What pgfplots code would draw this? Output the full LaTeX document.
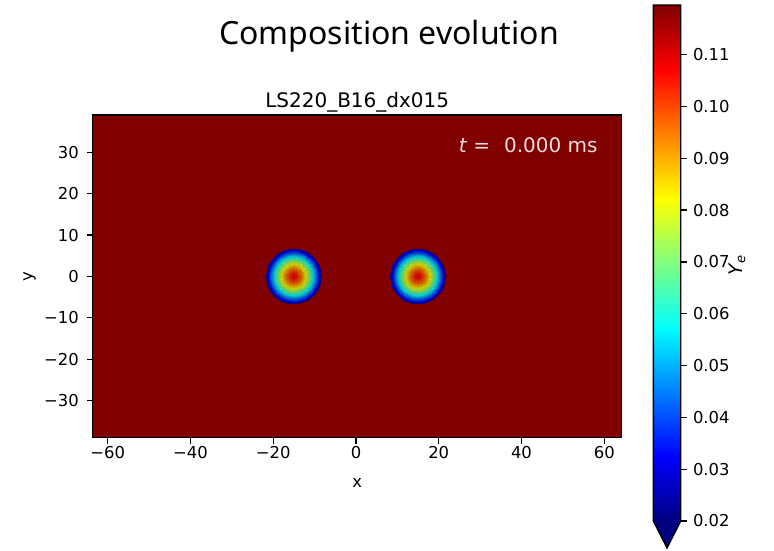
\documentclass[border=0pt]{standalone}
\usepackage{pgfplots}
\pgfplotsset{compat=1.18}
\usepackage{pgfplotstable}
\usepackage{fontspec}
\setmainfont{DejaVu Sans}
\newfontfamily\titlefont{Noto Sans}
\definecolor{jetdark}{RGB}{128,0,0}
\definecolor{jetnavy}{RGB}{0,0,128}
\definecolor{tlabel}{RGB}{238,220,220}
\newcommand\ticksize{\fontsize{12.3}{15}\selectfont}

% radial Ye profile of each star (radius r, value v)
\pgfplotstableread{
r v
6.6 0.0240
6.4 0.0276
6.2 0.0312
6.0 0.0348
5.8 0.0383
5.6 0.0417
5.4 0.0451
5.2 0.0484
5.0 0.0517
4.8 0.0549
4.6 0.0580
4.4 0.0612
4.2 0.0642
4.0 0.0672
3.8 0.0701
3.6 0.0729
3.4 0.0757
3.2 0.0784
3.0 0.0810
2.8 0.0836
2.6 0.0860
2.4 0.0884
2.2 0.0907
2.0 0.0930
1.8 0.0951
1.6 0.0971
1.4 0.0990
1.2 0.1008
1.0 0.1025
0.8 0.1040
0.6 0.1053
0.4 0.1065
0.2 0.1075
}\blob

% colorbar strip
\pgfplotstableread{
x y z
0 0.02 0
1 0.02 0
0 0.03245 0
1 0.03245 0
0 0.0449 0
1 0.0449 0
0 0.05735 0
1 0.05735 0
0 0.0698 0
1 0.0698 0
0 0.08225 0
1 0.08225 0
0 0.0947 0
1 0.0947 0
0 0.10715 0
1 0.10715 0
0 0.1196 0
1 0.1196 0
}\cbar

\begin{document}
\begin{tikzpicture}
\begin{axis}[
  at={(0,0)}, anchor=south west,
  x=3.1035pt, y=3.1035pt,
  xmin=-63.6, xmax=64.2, ymin=-39, ymax=39,
  axis background/.style={fill=jetdark},
  axis line style={black, line width=1pt},
  tick style={black, line width=1pt},
  tick align=outside, major tick length=4.4pt,
  xtick pos=bottom, ytick pos=left,
  xtick={-60,-40,-20,0,20,40,60},
  xticklabels={−60,−40,−20,0,20,40,60},
  ytick={-30,-20,-10,0,10,20,30},
  yticklabels={−30,−20,−10,0,10,20,30},
  xticklabel style={font=\ticksize, inner sep=0pt, anchor=north, yshift=-1.7pt},
  yticklabel style={font=\ticksize, inner sep=0pt, anchor=east, xshift=-5.9pt},
  xlabel={x},
  xlabel style={at={(rel axis cs:0.5,0)}, anchor=base, yshift=-36.9pt, inner sep=0pt, font=\ticksize},
  ylabel={y},
  ylabel style={at={(rel axis cs:0,0.5)}, anchor=center, yshift=47.4pt, inner sep=0pt, font=\ticksize},
  title={LS220\_B16\_dx015},
  title style={at={(rel axis cs:0.5,1)}, anchor=base, yshift=-0.5pt, inner sep=0pt, font=\fontsize{15}{18}\selectfont},
  colormap/jet,
  point meta min=0.02, point meta max=0.1196,
]
\addplot[scatter, only marks, mark=*, point meta=explicit,
  mark options={line width=0pt},
  visualization depends on={\thisrow{r} \as \rr},
  scatter/@pre marker code/.append style={/tikz/mark size=3.1035*\rr}]
  table[x expr=-15, y expr=0, meta=v] {\blob};
\addplot[scatter, only marks, mark=*, point meta=explicit,
  mark options={line width=0pt},
  visualization depends on={\thisrow{r} \as \rr},
  scatter/@pre marker code/.append style={/tikz/mark size=3.1035*\rr}]
  table[x expr=15, y expr=0, meta=v] {\blob};
\node[anchor=base east, inner sep=0pt, text=tlabel, font=\fontsize{15}{18}\selectfont]
  at (rel axis cs:0.955,0.885) {\textit{t}\hspace{0.3em}=\hspace{0.7em}0.000 ms};
\end{axis}
% colorbar as its own axis
\begin{axis}[
  at={(420.4pt,-62.4pt)}, anchor=south west,
  scale only axis, width=20.55pt, height=387pt,
  xmin=0, xmax=1, ymin=0.02, ymax=0.1196,
  view={0}{90},
  colormap/jet,
  point meta min=0.02, point meta max=0.1196,
  xtick=\empty,
  ytick={0.02,0.03,0.04,0.05,0.06,0.07,0.08,0.09,0.10,0.11},
  yticklabels={0.02,0.03,0.04,0.05,0.06,0.07,0.08,0.09,0.10,0.11},
  yticklabel pos=right, ytick pos=right,
  tick align=outside, major tick length=4.4pt,
  tick style={black, line width=1pt},
  axis line style={draw=none},
  yticklabel style={font=\ticksize, inner sep=0pt, anchor=west, xshift=4.6pt},
]
\addplot3[surf, shader=interp, mesh/cols=2, point meta=\thisrow{y}]
  table[x=x, y=y, z=z] {\cbar};
\end{axis}
% colorbar extension and outline
\fill[jetnavy] (420.4pt,-62.4pt) -- (440.95pt,-62.4pt) -- (430.675pt,-82.6pt) -- cycle;
\draw[black, line width=1pt, line join=miter] (420.4pt,-62.4pt) -- (420.4pt,324.6pt) -- (440.95pt,324.6pt) -- (440.95pt,-62.4pt) -- (430.675pt,-82.6pt) -- cycle;
\node[rotate=90, inner sep=0pt, font=\fontsize{14}{17}\selectfont] at (483.1pt,129.6pt) {\textit{Y}\textsubscript{\textit{e}}};
\node[anchor=base, inner sep=0pt, font=\titlefont\fontsize{24}{29}\selectfont] at (222.2pt,294.6pt) {Composition evolution};
\pgfresetboundingbox
\path[use as bounding box] (-69.6pt,-84.15pt) rectangle (510.9pt,328.35pt);
\end{tikzpicture}
\end{document}
